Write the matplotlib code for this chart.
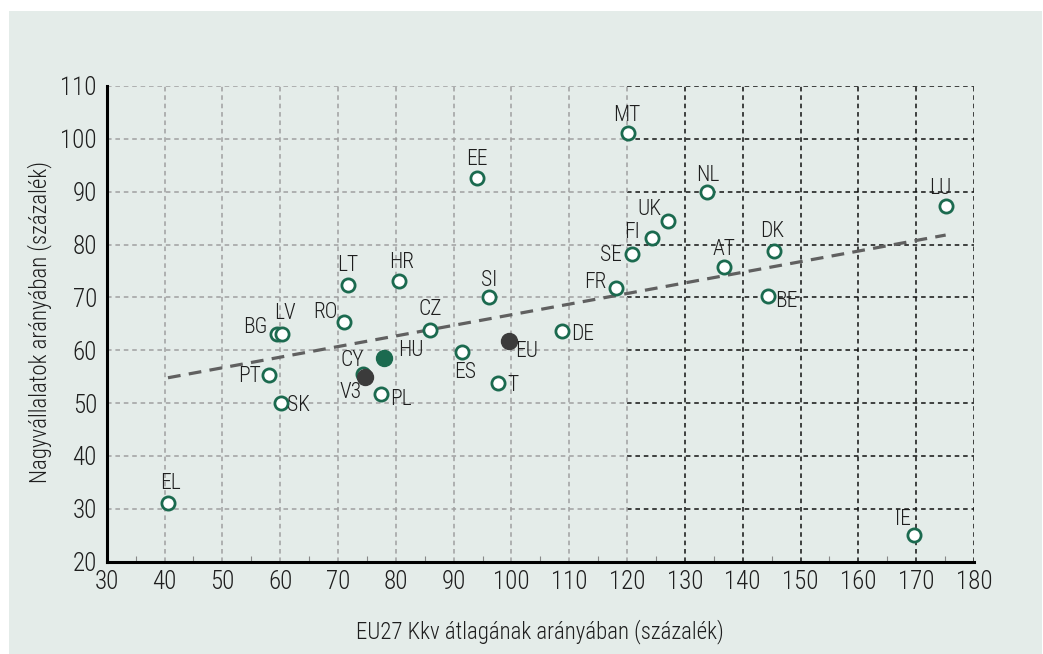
import matplotlib
matplotlib.use("Agg")
import matplotlib.pyplot as plt
from matplotlib.patches import Rectangle
from matplotlib.ticker import MultipleLocator

# ---- data ----
countries = ["EL", "IE", "PT", "SK", "BG", "LV", "RO", "LT", "HR", "CZ", "PL", "CY",
             "ES", "SI", "T", "EE", "DE", "FR", "MT", "SE", "FI", "UK", "NL", "AT",
             "BE", "DK", "LU"]
x_vals = [40.6, 169.6, 58.0, 60.1, 59.4, 60.3, 71.1, 71.7, 80.6, 86.0, 77.5, 74.3,
          91.4, 96.1, 97.6, 94.0, 108.7, 118.1, 120.1, 120.9, 124.3, 127.1, 133.9, 136.8,
          144.3, 145.4, 175.1]
y_vals = [31.1, 25.0, 55.3, 50.1, 63.1, 63.1, 65.4, 72.4, 73.2, 63.9, 51.8, 55.6,
          59.7, 70.0, 53.9, 92.6, 63.6, 71.8, 101.1, 78.2, 81.3, 84.5, 90.0, 75.7,
          70.2, 78.7, 87.3]

hu_name, hu_x, hu_y = "HU", 77.9, 58.6
agg_names = ["EU", "V3"]
agg_x = [99.5, 74.7]
agg_y = [61.8, 54.9]

trend_x = [40.6, 175.1]
trend_y = [54.8, 81.8]

x_ticks = list(range(30, 181, 10))
y_ticks = list(range(20, 111, 10))
x_label = "EU27 Kkv átlagának arányában (százalék)"
y_label = "Nagyvállalatok arányában (százalék)"

# label offsets in pixels (styling)
offsets = {
    "MT": (-1, 18), "NL": (0, 16), "UK": (-19, 11), "FI": (-20, 5), "SE": (-21, -1),
    "FR": (-21, 5), "AT": (0, 18), "DK": (-2, 20), "BE": (19, -5), "LU": (-5, 17),
    "EE": (0, 18), "LT": (0, 19), "HR": (2, 18), "SI": (0, 17), "CZ": (0, 20),
    "RO": (-19, 9), "BG": (-21, 6), "LV": (3, 20), "HU": (27, 7), "EU": (18, -11),
    "ES": (3, -21), "CY": (-11, 13), "V3": (-15, -15), "PT": (-19, -1), "SK": (18, -3),
    "PL": (20, -6), "T": (15, -3), "DE": (21, -3), "EL": (3, 20), "IE": (-11, 16),
}

plt.rcParams["font.family"] = ["Roboto Condensed", "DejaVu Sans"]
plt.rcParams["font.weight"] = "light"

GREEN = "#1b6a4f"
DARK = "#3b3b3b"
BG = "#e4ece9"
TXT = "#1e1e1e"

fig = plt.figure(figsize=(10.43, 6.54), dpi=100)
fig.patch.set_facecolor("white")
fig.patches.append(Rectangle((9 / 1043, 0), 1 - 10 / 1043, 1 - 11 / 654,
                             transform=fig.transFigure, facecolor=BG,
                             edgecolor="none", zorder=-10))

ax = fig.add_axes([106.7 / 1043, 1 - 561.7 / 654, (974 - 106.7) / 1043, (561.7 - 86) / 654])
ax.set_zorder(5)
ax.set_facecolor("none")
ax.set_xlim(30, 180)
ax.set_ylim(20, 110)

# grid: grey left of 120, black right of 120
split = 120
for yv in y_ticks[1:]:
    ax.plot([30, split], [yv, yv], color="#a0a0a0", lw=1.1, ls=(0, (3, 2.5)), zorder=1)
    ax.plot([split, 180], [yv, yv], color="#111111", lw=1.1, ls=(0, (3, 2.5)), zorder=1)
for xv in x_ticks[1:]:
    c = "#a0a0a0" if xv <= split else "#111111"
    ax.plot([xv, xv], [20, 110], color=c, lw=1.1, ls=(0, (3, 2.5)), zorder=1)

for s in ["top", "right"]:
    ax.spines[s].set_visible(False)
for s in ["left", "bottom"]:
    ax.spines[s].set_linewidth(2.2)
    ax.spines[s].set_color("black")
    ax.spines[s].set_zorder(3)

ax.set_xticks(x_ticks)
ax.set_yticks(y_ticks)
ax.xaxis.set_minor_locator(MultipleLocator(5))
ax.tick_params(axis="both", which="major", length=0, labelsize=18, colors=TXT, pad=6)
ax.tick_params(axis="y", which="major", pad=7)
ax.tick_params(axis="x", which="minor", direction="in", length=4, width=0.8, color="#888888")

# trend line
ax.plot(trend_x, trend_y, color="#606060", lw=2.3, ls=(0, (4, 2.6)), zorder=2)

# points
ax.plot(x_vals, y_vals, "o", ms=9.5, mfc="white", mec=GREEN, mew=2.0, zorder=4, ls="none")
ax.plot([hu_x], [hu_y], "o", ms=11.5, mfc=GREEN, mec=GREEN, zorder=4, ls="none")
ax.plot(agg_x, agg_y, "o", ms=11.5, mfc=DARK, mec=DARK, zorder=5, ls="none")

all_names = countries + [hu_name] + agg_names
all_x = x_vals + [hu_x] + agg_x
all_y = y_vals + [hu_y] + agg_y
for n, xv, yv in zip(all_names, all_x, all_y):
    dx, dy = offsets.get(n, (0, 18))
    ax.annotate(n, (xv, yv), xytext=(dx, dy), textcoords="offset pixels",
                ha="center", va="center", fontsize=15.5, color=TXT, zorder=6)

fig.text(540 / 1043, 1 - 632 / 654, x_label, ha="center", va="center",
         fontsize=16.5, color=TXT)
fig.text(40 / 1043, 1 - 322 / 654, y_label, ha="center", va="center",
         rotation=90, fontsize=16.5, color=TXT)

fig.savefig("out.png", dpi=100, facecolor="white")
